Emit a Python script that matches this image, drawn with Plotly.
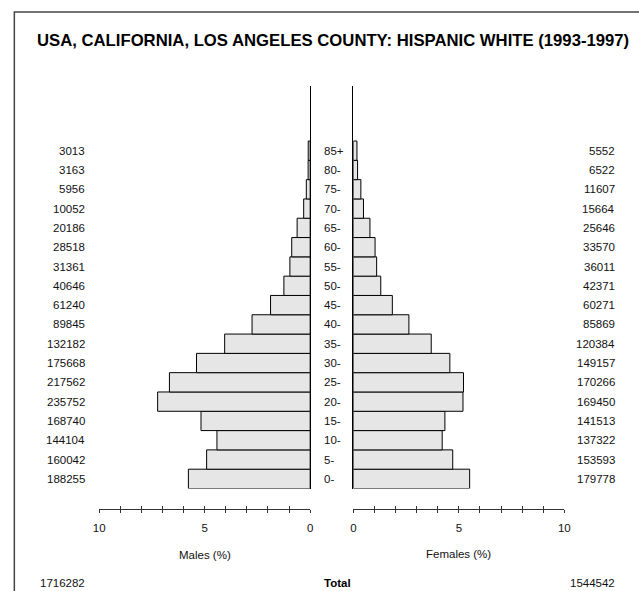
import plotly.graph_objects as go

W, H = 639, 591

age_labels = ["0-", "5-", "10-", "15-", "20-", "25-", "30-", "35-", "40-",
              "45-", "50-", "55-", "60-", "65-", "70-", "75-", "80-", "85+"]
male_counts = [188255, 160042, 144104, 168740, 235752, 217562, 175668, 132182, 89845,
               61240, 40646, 31361, 28518, 20186, 10052, 5956, 3163, 3013]
female_counts = [179778, 153593, 137322, 141513, 169450, 170266, 149157, 120384, 85869,
                 60271, 42371, 36011, 33570, 25646, 15664, 11607, 6522, 5552]
male_total = 1716282
female_total = 1544542
tick_vals = [0, 1, 2, 3, 4, 5, 6, 7, 8, 9, 10]
tick_text = ["0", "", "", "", "", "5", "", "", "", "", "10"]

grand_total = male_total + female_total
male_pct = [c / grand_total * 100 for c in male_counts]
female_pct = [c / grand_total * 100 for c in female_counts]
rows = list(range(len(age_labels)))

FONT = "Liberation Sans, Arial, Helvetica, sans-serif"
FS = 11.5


def px(x):
    return x / W


def py(y):
    return 1 - y / H


fig = go.Figure()
bar_style = dict(orientation="h", width=1, marker=dict(color="#e6e6e6", line=dict(color="black", width=1)),
                 showlegend=False, hoverinfo="skip")
fig.add_trace(go.Bar(x=male_pct, y=rows, xaxis="x", yaxis="y", **bar_style))
fig.add_trace(go.Bar(x=female_pct, y=rows, xaxis="x2", yaxis="y2", **bar_style))
# dummy traces for the inward tick overlays
fig.add_trace(go.Scatter(x=[None], y=[None], xaxis="x3", yaxis="y", showlegend=False, hoverinfo="skip"))
fig.add_trace(go.Scatter(x=[None], y=[None], xaxis="x4", yaxis="y2", showlegend=False, hoverinfo="skip"))

xl_dom = [px(95), px(310)]
xr_dom = [px(354), px(569)]
y_dom = [py(488.5), py(86)]
tick_pos = py(509)
yrange = [-0.5, 20.35]

common_x = dict(showgrid=False, zeroline=False, showline=True, linecolor="#333", linewidth=1,
                tickmode="array", tickvals=tick_vals, ticktext=tick_text,
                tickcolor="#333", ticklen=3, tickwidth=1,
                anchor="free", position=tick_pos, fixedrange=True)
fig.update_layout(
    width=W, height=H,
    margin=dict(l=0, r=0, t=0, b=0),
    paper_bgcolor="white", plot_bgcolor="white",
    bargap=0,
    xaxis=dict(domain=xl_dom, range=[10, 0], ticks="outside", ticklabelstandoff=5,
               tickfont=dict(family=FONT, size=FS, color="#111"), **common_x),
    xaxis2=dict(domain=xr_dom, range=[0, 10], ticks="outside", ticklabelstandoff=5,
                tickfont=dict(family=FONT, size=FS, color="#111"), **common_x),
    xaxis3=dict(overlaying="x", range=[10, 0], ticks="inside", showticklabels=False, **common_x),
    xaxis4=dict(overlaying="x2", range=[0, 10], ticks="inside", showticklabels=False, **common_x),
    yaxis=dict(domain=y_dom, range=yrange, anchor="x", side="right", showline=True,
               linecolor="black", linewidth=1, showticklabels=False, ticks="",
               showgrid=False, zeroline=False, fixedrange=True),
    yaxis2=dict(domain=y_dom, range=yrange, anchor="x2", side="left", showline=True,
                linecolor="black", linewidth=1, showticklabels=False, ticks="",
                showgrid=False, zeroline=False, fixedrange=True),
    font=dict(family=FONT, size=FS, color="#111"),
)

txt = dict(family=FONT, size=FS, color="#111")
ann = []
for i, lab in enumerate(age_labels):
    ann.append(dict(x=px(322), y=rows[i], xref="paper", yref="y", text=lab, showarrow=False,
                    xanchor="left", yanchor="middle", font=txt))
    ann.append(dict(x=px(83), y=rows[i], xref="paper", yref="y", text=str(male_counts[i]), showarrow=False,
                    xanchor="right", yanchor="middle", font=txt))
    ann.append(dict(x=px(623), y=rows[i], xref="paper", yref="y", text=str(female_counts[i]), showarrow=False,
                    xanchor="right", yanchor="middle", font=txt))

ann.append(dict(x=px(333), y=py(40), xref="paper", yref="paper",
                text="<b>USA, CALIFORNIA, LOS ANGELES COUNTY: HISPANIC WHITE (1993-1997)</b>",
                showarrow=False, xanchor="center", yanchor="middle",
                font=dict(family=FONT, size=16.7, color="black")))
ann.append(dict(x=px(202.5), y=py(555), xref="paper", yref="paper", text="Males (%)", showarrow=False,
                xanchor="center", yanchor="middle", font=txt))
ann.append(dict(x=px(461.5), y=py(554), xref="paper", yref="paper", text="Females (%)", showarrow=False,
                xanchor="center", yanchor="middle", font=txt))
ann.append(dict(x=px(83), y=py(583), xref="paper", yref="paper", text=str(male_total), showarrow=False,
                xanchor="right", yanchor="middle", font=txt))
ann.append(dict(x=px(623), y=py(583), xref="paper", yref="paper", text=str(female_total), showarrow=False,
                xanchor="right", yanchor="middle", font=txt))
ann.append(dict(x=px(322), y=py(583), xref="paper", yref="paper", text="<b>Total</b>", showarrow=False,
                xanchor="left", yanchor="middle", font=dict(family=FONT, size=FS, color="black")))
fig.update_layout(annotations=ann)

fig.add_shape(type="rect", xref="paper", yref="paper", x0=px(8.5), y0=-0.2, x1=1.2, y1=py(12),
              line=dict(color="#444", width=1.5), fillcolor="rgba(0,0,0,0)", layer="below")

fig.write_html("out.html", config={"displayModeBar": False, "staticPlot": True},
               post_script="document.body.style.margin='0';document.body.style.overflow='hidden';")
